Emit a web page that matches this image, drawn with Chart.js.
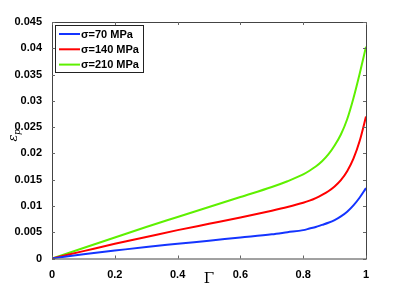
<!DOCTYPE html>
<html>
<head>
<meta charset="utf-8">
<script src="https://cdn.jsdelivr.net/npm/chart.js@4"></script>
<style>
  html, body { margin: 0; padding: 0; background: #fff; }
  #wrap { width: 405px; height: 291px; }
</style>
</head>
<body>
<div id="wrap"><canvas id="strainChart" width="405" height="291"></canvas></div>
<script>
// Data
const gamma = [0, 0.1, 0.2, 0.3, 0.4, 0.5, 0.6, 0.7, 0.75, 0.8, 0.82, 0.84, 0.86, 0.88, 0.9, 0.92, 0.94, 0.96, 0.98, 1.0];
const sigma70 = [0, 0.0008, 0.0015, 0.0022, 0.0028, 0.0034, 0.0040, 0.0046, 0.0050, 0.0054, 0.0057, 0.0060, 0.0064, 0.0068, 0.0073, 0.0080, 0.0089, 0.0101, 0.0116, 0.0134];
const sigma140 = [0, 0.0014, 0.0028, 0.0041, 0.0054, 0.0066, 0.0078, 0.0091, 0.0098, 0.0106, 0.0110, 0.0115, 0.0121, 0.0128, 0.0137, 0.0149, 0.0166, 0.0190, 0.0224, 0.0270];
const sigma210 = [0, 0.0020, 0.0040, 0.0060, 0.0079, 0.0098, 0.0117, 0.0136, 0.0147, 0.0160, 0.0167, 0.0175, 0.0185, 0.0198, 0.0215, 0.0236, 0.0265, 0.0305, 0.0352, 0.0403];
const seriesLabels = ["\u03c3=70 MPa", "\u03c3=140 MPa", "\u03c3=210 MPa"];
const xTickLabels = ["0", "0.2", "0.4", "0.6", "0.8", "1"];
const yTickLabels = ["0", "0.005", "0.01", "0.015", "0.02", "0.025", "0.03", "0.035", "0.04", "0.045"];

const colors = ["#1434ff", "#ff0000", "#5ef000"];
const tickFont = { family: "Liberation Sans, Arial, sans-serif", size: 11, weight: "bold" };

function toPoints(ys) {
  return gamma.map((g, i) => ({ x: g, y: ys[i] }));
}

// frame, inward ticks, legend box and axis titles
const matlabStyle = {
  id: "matlabStyle",
  afterDatasetsDraw(chart) {
    const ctx = chart.ctx;
    const a = chart.chartArea;
    const xs = chart.scales.x;
    const ys = chart.scales.y;
    ctx.save();
    ctx.strokeStyle = "#444";
    ctx.lineWidth = 1;
    ctx.strokeRect(a.left + 0.5, a.top + 0.5, a.right - a.left, a.bottom - a.top);

    ctx.strokeStyle = "#666";
    ctx.beginPath();
    xs.ticks.forEach(t => {
      const px = Math.round(xs.getPixelForValue(t.value)) + 0.5;
      ctx.moveTo(px, a.bottom); ctx.lineTo(px, a.bottom - 3);
      ctx.moveTo(px, a.top); ctx.lineTo(px, a.top + 3);
    });
    ys.ticks.forEach(t => {
      const py = Math.round(ys.getPixelForValue(t.value)) + 0.5;
      ctx.moveTo(a.left, py); ctx.lineTo(a.left + 3, py);
      ctx.moveTo(a.right, py); ctx.lineTo(a.right - 3, py);
    });
    ctx.stroke();

    // legend
    const lx = 55, ly = 25, lw = 88, lh = 47;
    ctx.fillStyle = "#fff";
    ctx.fillRect(lx, ly, lw, lh);
    ctx.strokeStyle = "#222";
    ctx.strokeRect(lx + 0.5, ly + 0.5, lw, lh);
    ctx.font = "bold 11px Liberation Sans, Arial, sans-serif";
    ctx.textBaseline = "middle";
    ctx.textAlign = "left";
    chart.data.datasets.forEach((ds, i) => {
      const y = ly + 9 + i * 15.3;
      ctx.strokeStyle = ds.borderColor;
      ctx.lineWidth = 2;
      ctx.beginPath();
      ctx.moveTo(lx + 4, y); ctx.lineTo(lx + 25, y);
      ctx.stroke();
      ctx.fillStyle = "#000";
      ctx.fillText(ds.label, lx + 26, y + 0.5);
    });

    // axis titles
    ctx.fillStyle = "#000";
    ctx.font = "15px DejaVu Serif, serif";
    ctx.textAlign = "center";
    ctx.fillText("\u0393", (a.left + a.right) / 2, 279);
    ctx.save();
    ctx.translate(14, 138);
    ctx.rotate(-Math.PI / 2);
    ctx.font = "italic 13px DejaVu Serif, serif";
    ctx.fillText("\u03b5", 0, 0);
    ctx.font = "italic 9px DejaVu Serif, serif";
    ctx.fillText("p", 6, 4);
    ctx.restore();
    ctx.restore();
  }
};

new Chart(document.getElementById("strainChart").getContext("2d"), {
  type: "line",
  data: {
    datasets: [sigma70, sigma140, sigma210].map((s, i) => ({
      label: seriesLabels[i],
      data: toPoints(s),
      borderColor: colors[i],
      borderWidth: 2,
      pointRadius: 0,
      fill: false,
      cubicInterpolationMode: "monotone"
    }))
  },
  options: {
    responsive: false,
    animation: false,
    layout: { padding: { left: 0, top: 22, right: 39, bottom: 0 } },
    plugins: { legend: { display: false }, tooltip: { enabled: false } },
    scales: {
      x: {
        type: "linear",
        min: 0, max: 1,
        grid: { display: false },
        border: { display: false },
        afterFit: s => { s.height = 32.5; },
        ticks: {
          stepSize: 0.2, padding: 2, color: "#000", font: tickFont, maxRotation: 0,
          callback: (v, i) => xTickLabels[i]
        }
      },
      y: {
        min: 0, max: 0.045,
        grid: { display: false },
        border: { display: false },
        afterFit: s => { s.width = 52; },
        ticks: {
          stepSize: 0.005, padding: 2, color: "#000", font: tickFont,
          callback: (v, i) => yTickLabels[i]
        }
      }
    }
  },
  plugins: [matlabStyle]
});
</script>
</body>
</html>
